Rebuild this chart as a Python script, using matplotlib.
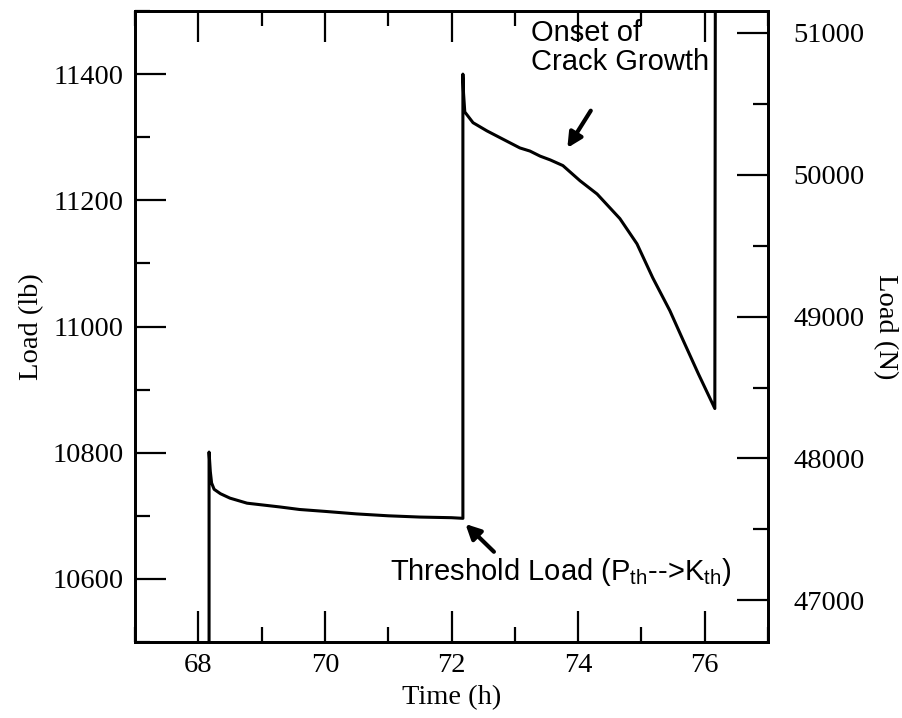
import matplotlib
matplotlib.use("Agg")
import matplotlib.pyplot as plt
from matplotlib.ticker import MultipleLocator

plt.rcParams['mathtext.fontset'] = 'custom'
plt.rcParams['mathtext.rm'] = 'Liberation Sans'

LB_TO_N = 4.44822

# hold segments of the threshold test, load in lb
time_h = [68.17, 68.17, 68.19, 68.21, 68.25, 68.35, 68.5, 68.77, 69.29, 69.6,
          70.0, 70.5, 71.0, 71.5, 72.0, 72.18,
          72.18, 72.19, 72.21, 72.34, 72.56, 72.81, 73.08, 73.24, 73.4, 73.56,
          73.76, 74.03, 74.3, 74.66, 74.93, 75.18, 75.45, 75.66, 75.9, 76.16,
          76.17]
load_lb = [10300, 10801, 10770, 10752, 10742, 10735, 10728, 10720, 10714, 10710,
           10707, 10703, 10700, 10698, 10697, 10696,
           11400, 11370, 11340, 11323, 11310, 11297, 11283, 11278, 11270, 11264,
           11255, 11231, 11210, 11171, 11131, 11077, 11025, 10978, 10925, 10870,
           11700]

serif = 'Liberation Serif'
sans = 'Liberation Sans'

fig = plt.figure(figsize=(9.02, 7.18), dpi=100)
ax = fig.add_axes([135/902, 1 - 642/718, (768 - 135)/902, (642 - 11)/718])

ax.plot(time_h, load_lb, color='black', lw=2.2)
ax.set_xlim(67, 77)
ax.set_ylim(10500, 11500)

ax.xaxis.set_major_locator(MultipleLocator(2))
ax.xaxis.set_minor_locator(MultipleLocator(1))
ax.yaxis.set_major_locator(MultipleLocator(200))
ax.yaxis.set_minor_locator(MultipleLocator(100))
ax.tick_params(which='both', direction='in', width=1.6, top=True, right=False,
               labelsize=20.5, pad=8)
ax.tick_params(which='major', length=22)
ax.tick_params(which='minor', length=11)
for lab in ax.get_xticklabels() + ax.get_yticklabels():
    lab.set_family(serif)
for sp in ax.spines.values():
    sp.set_linewidth(2)

ax.set_xlabel('Time (h)', family=serif, fontsize=20.5, labelpad=5)
ax.set_ylabel('Load (lb)', family=serif, fontsize=20.5, labelpad=6)

# same load in newtons on the right
ax2 = ax.twinx()
ax2.set_ylim(10500 * LB_TO_N, 11500 * LB_TO_N)
ax2.yaxis.set_major_locator(MultipleLocator(1000))
ax2.yaxis.set_minor_locator(MultipleLocator(500))
ax2.tick_params(which='both', direction='in', width=1.6, labelsize=20.5, pad=18)
ax2.tick_params(which='major', length=22)
ax2.tick_params(which='minor', length=11)
for lab in ax2.get_yticklabels():
    lab.set_family(serif)
for sp in ax2.spines.values():
    sp.set_linewidth(2)
ax2.set_ylabel('Load (N)', family=serif, fontsize=20.5, rotation=270, labelpad=24)

arrow = dict(arrowstyle='-|>', color='black', lw=3, mutation_scale=22,
             shrinkA=0, shrinkB=0)
ax.annotate('', xy=(73.83, 11283), xytext=(74.2, 11342), arrowprops=arrow)
ax.text(73.26, 11488, 'Onset of\nCrack Growth', family=sans, fontsize=21,
        ha='left', va='top', linespacing=1.05)

ax.annotate('', xy=(72.22, 10687), xytext=(72.67, 10643), arrowprops=arrow)
ax.text(71.03, 10598, r'Threshold Load (P$_{\mathrm{th}}$-->K$_{\mathrm{th}}$)',
        family=sans, fontsize=21, ha='left', va='baseline')

fig.savefig('out.png', dpi=100)
